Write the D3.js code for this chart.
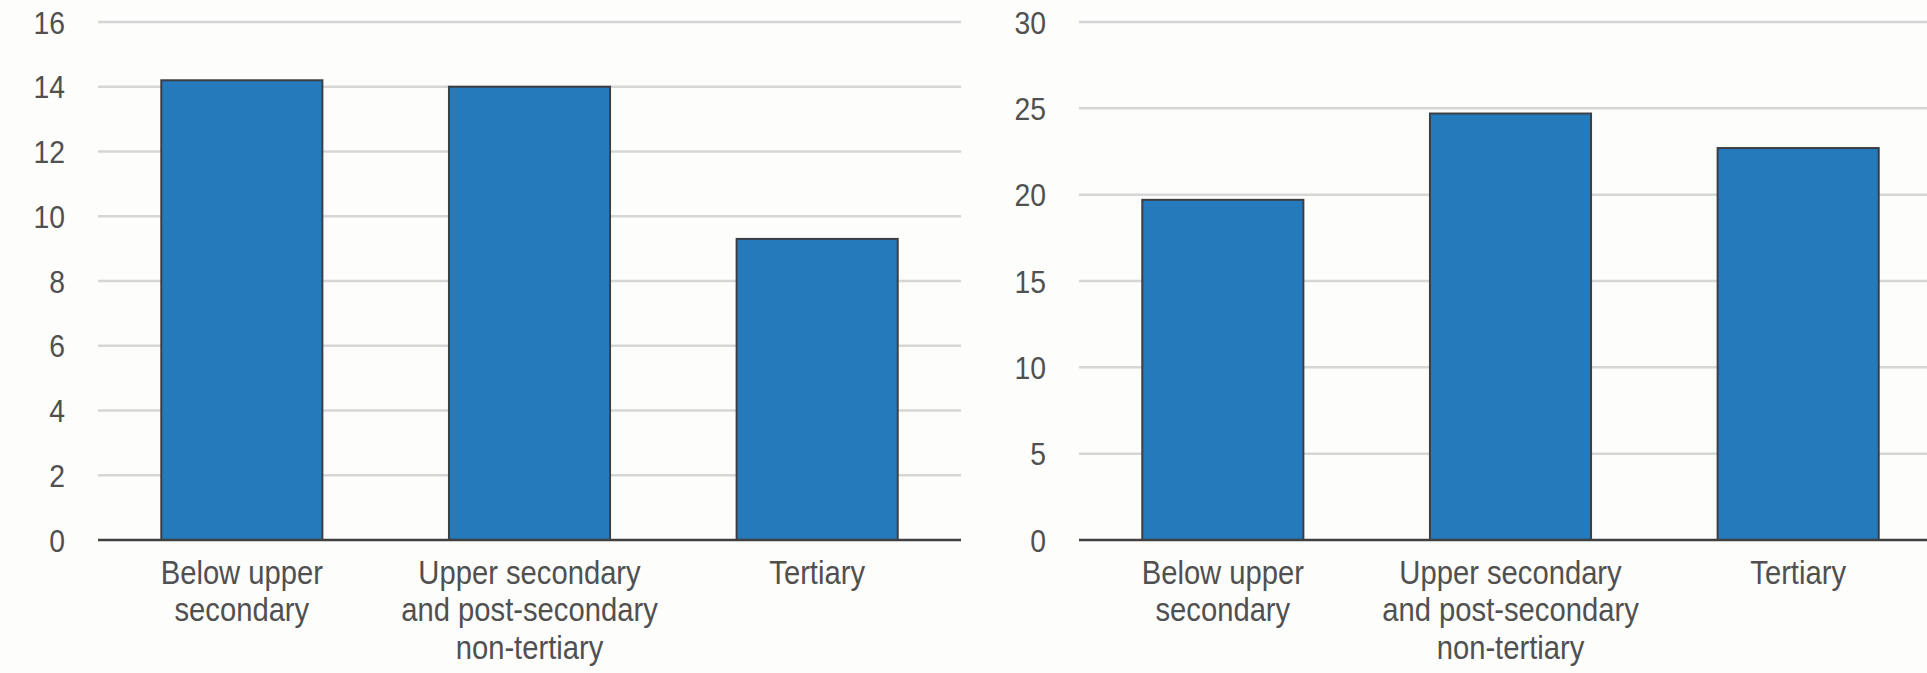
<!DOCTYPE html>
<html>
<head>
<meta charset="utf-8">
<script src="https://cdn.jsdelivr.net/npm/d3@7"></script>
<style>
  html, body { margin: 0; padding: 0; background: #fdfdfc; overflow: hidden; }
  text { font-family: "Liberation Sans", Arial, sans-serif; fill: #505050; }
</style>
</head>
<body>
<svg id="chart" width="1927" height="673"></svg>
<script>
// categories shared by both panels, labels split into lines
const categories = ["Below upper secondary", "Upper secondary and post-secondary non-tertiary", "Tertiary"]
const categoryLines = [
    ["Below upper", "secondary"],
    ["Upper secondary", "and post-secondary", "non-tertiary"],
    ["Tertiary"]
]

// left panel
const leftValues = [14.2, 14.0, 9.3]
const leftTicks = [0, 2, 4, 6, 8, 10, 12, 14, 16]

// right panel
const rightValues = [19.7, 24.7, 22.7]
const rightTicks = [0, 5, 10, 15, 20, 25, 30]

const TOP = 22, BOTTOM = 540
// the original type is a narrow grotesque, squeeze the sans to match
const SQUEEZE = 0.885

let svg = d3.select("#chart")

function drawPanel(cfg){
    let {x0, x1, labelX, values, ticks} = cfg

    let g = svg.append("g")

    let x = d3.scaleBand()
        .domain(categories)
        .range([x0, x1])
        .paddingInner(0.44)
        .paddingOuter(0.22)

    let y = d3.scaleLinear()
        .domain([0, d3.max(ticks)])
        .range([BOTTOM, TOP])

    // gridlines
    g.selectAll("line.grid")
        .data(ticks.filter(t => t > 0))
        .enter().append("line")
            .attr("class", "grid")
            .attr("x1", x0).attr("x2", x1)
            .attr("y1", d => y(d)).attr("y2", d => y(d))
            .attr("stroke", "#d6d6d6")
            .attr("stroke-width", 2.5)

    // y tick labels
    g.selectAll("text.ytick")
        .data(ticks)
        .enter().append("text")
            .attr("class", "ytick")
            .attr("transform", d => `translate(${labelX},${y(d)}) scale(${SQUEEZE},1)`)
            .attr("dy", "0.36em")
            .attr("text-anchor", "end")
            .attr("font-size", 32)
            .text(d => d)

    // bars
    g.selectAll("rect.bar")
        .data(values)
        .enter().append("rect")
            .attr("class", "bar")
            .attr("x", (d, i) => x(categories[i]))
            .attr("y", d => y(d))
            .attr("width", x.bandwidth())
            .attr("height", d => y(0) - y(d))
            .attr("fill", "#257abb")
            .attr("stroke", "#3b3f44")
            .attr("stroke-width", 2)

    // zero line
    g.append("line")
        .attr("x1", x0).attr("x2", x1)
        .attr("y1", y(0)).attr("y2", y(0))
        .attr("stroke", "#404040")
        .attr("stroke-width", 2.5)

    // category labels
    let lbl = g.selectAll("text.xlabel")
        .data(categoryLines)
        .enter().append("text")
            .attr("class", "xlabel")
            .attr("text-anchor", "middle")
            .attr("font-size", 33)
            .attr("transform", (d, i) => `translate(${x(categories[i]) + x.bandwidth() / 2},${BOTTOM + 44}) scale(${SQUEEZE},1)`)

    lbl.selectAll("tspan")
        .data(d => d)
        .enter().append("tspan")
            .attr("x", 0)
            .attr("y", (d, i) => i * 37.5)
            .text(d => d)
}

drawPanel({x0: 98, x1: 961, labelX: 65, values: leftValues, ticks: leftTicks})
drawPanel({x0: 1079, x1: 1942, labelX: 1046, values: rightValues, ticks: rightTicks})
</script>
</body>
</html>
